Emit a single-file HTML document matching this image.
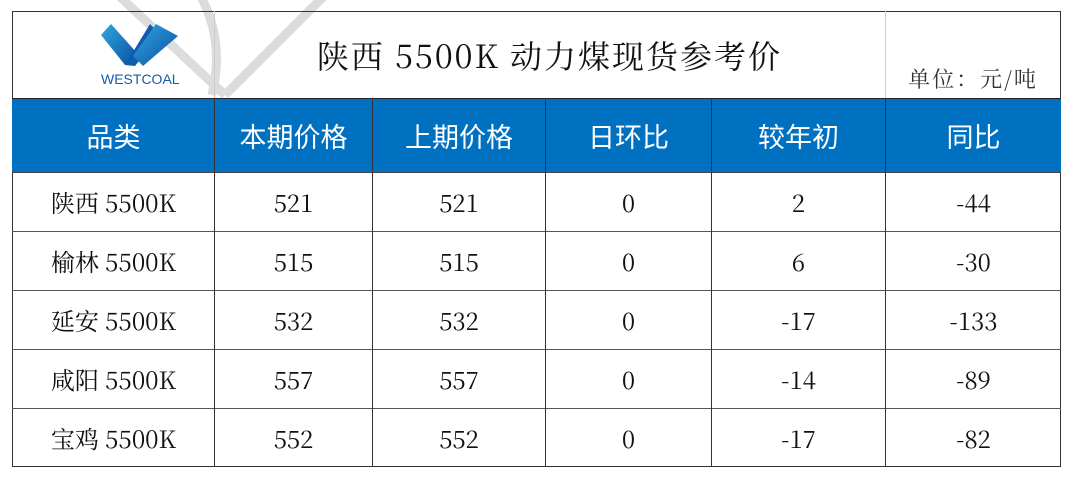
<!DOCTYPE html>
<html><head><meta charset="utf-8"><style>
body{margin:0;width:1080px;height:485px;background:#fff;position:relative;overflow:hidden;font-family:"Noto Serif CJK SC",serif}
.t{position:absolute;left:12px;top:11px;width:1049px;height:456px;border:1px solid #333;box-sizing:border-box}
.c{position:absolute;display:flex;align-items:center;justify-content:center;font-size:24px;color:#111;line-height:1}
.h{color:#fff;font-family:"Noto Sans CJK SC",sans-serif;font-size:27px}
.vl{position:absolute;width:1px;background:#333}
.hl{position:absolute;height:1px;background:#555;left:12px;width:1049px}
.r0{top:99px;height:73px}.r1{top:173px;height:58px}.r2{top:232px;height:58px}.r3{top:291px;height:58px}.r4{top:350px;height:58px}.r5{top:409px;height:58px}
.a{left:13px;width:201px}.b{left:215px;width:157px}.d{left:373px;width:172px}.e{left:546px;width:165px}.f{left:712px;width:173px}.k{left:886px;width:175px}
</style></head><body>
<svg style="position:absolute;left:0;top:0" width="1080" height="485"><g stroke="#dcdcdc" stroke-width="9" fill="none"><path d="M118 -5 L225 95"/><path d="M325 -5 L225 95"/><path d="M200 -5 Q225 40 212 95"/></g></svg>
<div class="t"></div>
<div style="position:absolute;left:12px;top:98px;width:1049px;height:74px;background:#0070c0"></div>
<svg style="position:absolute;left:100px;top:22px" width="80" height="68">
<defs><linearGradient id="lg" x1="0" y1="0" x2="1" y2="1"><stop offset="0" stop-color="#2fa8e0"/><stop offset="1" stop-color="#0b4fa0"/></linearGradient></defs>
<path d="M1 13 L11 2 L36 30 L25 43Z" fill="url(#lg)"/><path d="M25 43 L50 2 L60 12 L35 44Z" fill="#0d5cae"/><path d="M43 44 L33 34 L56 2 L78 14Z" fill="url(#lg)"/>
<text x="1" y="62" font-family="Liberation Sans,sans-serif" font-size="14" fill="#1a5aa8">WESTCOAL</text></svg>
<div class="vl" style="left:214px;top:11px;height:87px;background:#ccc"></div>
<div class="vl" style="left:885px;top:11px;height:87px;background:#ccc"></div>
<div class="c" style="left:214px;top:20px;width:671px;height:70px;font-size:32px;letter-spacing:2px">陕西 5500K 动力煤现货参考价</div>
<div class="c" style="left:885px;top:62px;width:176px;height:34px;font-size:22px;color:#333;letter-spacing:2px">单位：元/吨</div>
<div class="hl" style="top:98px;background:#222"></div>
<div class="hl" style="top:172px;background:#444"></div>
<div class="hl" style="top:231px"></div><div class="hl" style="top:290px"></div><div class="hl" style="top:349px"></div><div class="hl" style="top:408px"></div>
<div class="vl" style="left:214px;top:98px;height:369px"></div>
<div class="vl" style="left:372px;top:98px;height:369px"></div>
<div class="vl" style="left:545px;top:98px;height:369px"></div>
<div class="vl" style="left:711px;top:98px;height:369px"></div>
<div class="vl" style="left:885px;top:98px;height:369px"></div>

<div class="c h r0 a">品类</div><div class="c h r0 b">本期价格</div><div class="c h r0 d">上期价格</div><div class="c h r0 e">日环比</div><div class="c h r0 f">较年初</div><div class="c h r0 k">同比</div>
<div class="c r1 a">陕西 5500K</div><div class="c r1 b">521</div><div class="c r1 d">521</div><div class="c r1 e">0</div><div class="c r1 f">2</div><div class="c r1 k">-44</div>
<div class="c r2 a">榆林 5500K</div><div class="c r2 b">515</div><div class="c r2 d">515</div><div class="c r2 e">0</div><div class="c r2 f">6</div><div class="c r2 k">-30</div>
<div class="c r3 a">延安 5500K</div><div class="c r3 b">532</div><div class="c r3 d">532</div><div class="c r3 e">0</div><div class="c r3 f">-17</div><div class="c r3 k">-133</div>
<div class="c r4 a">咸阳 5500K</div><div class="c r4 b">557</div><div class="c r4 d">557</div><div class="c r4 e">0</div><div class="c r4 f">-14</div><div class="c r4 k">-89</div>
<div class="c r5 a">宝鸡 5500K</div><div class="c r5 b">552</div><div class="c r5 d">552</div><div class="c r5 e">0</div><div class="c r5 f">-17</div><div class="c r5 k">-82</div>
</body></html>
